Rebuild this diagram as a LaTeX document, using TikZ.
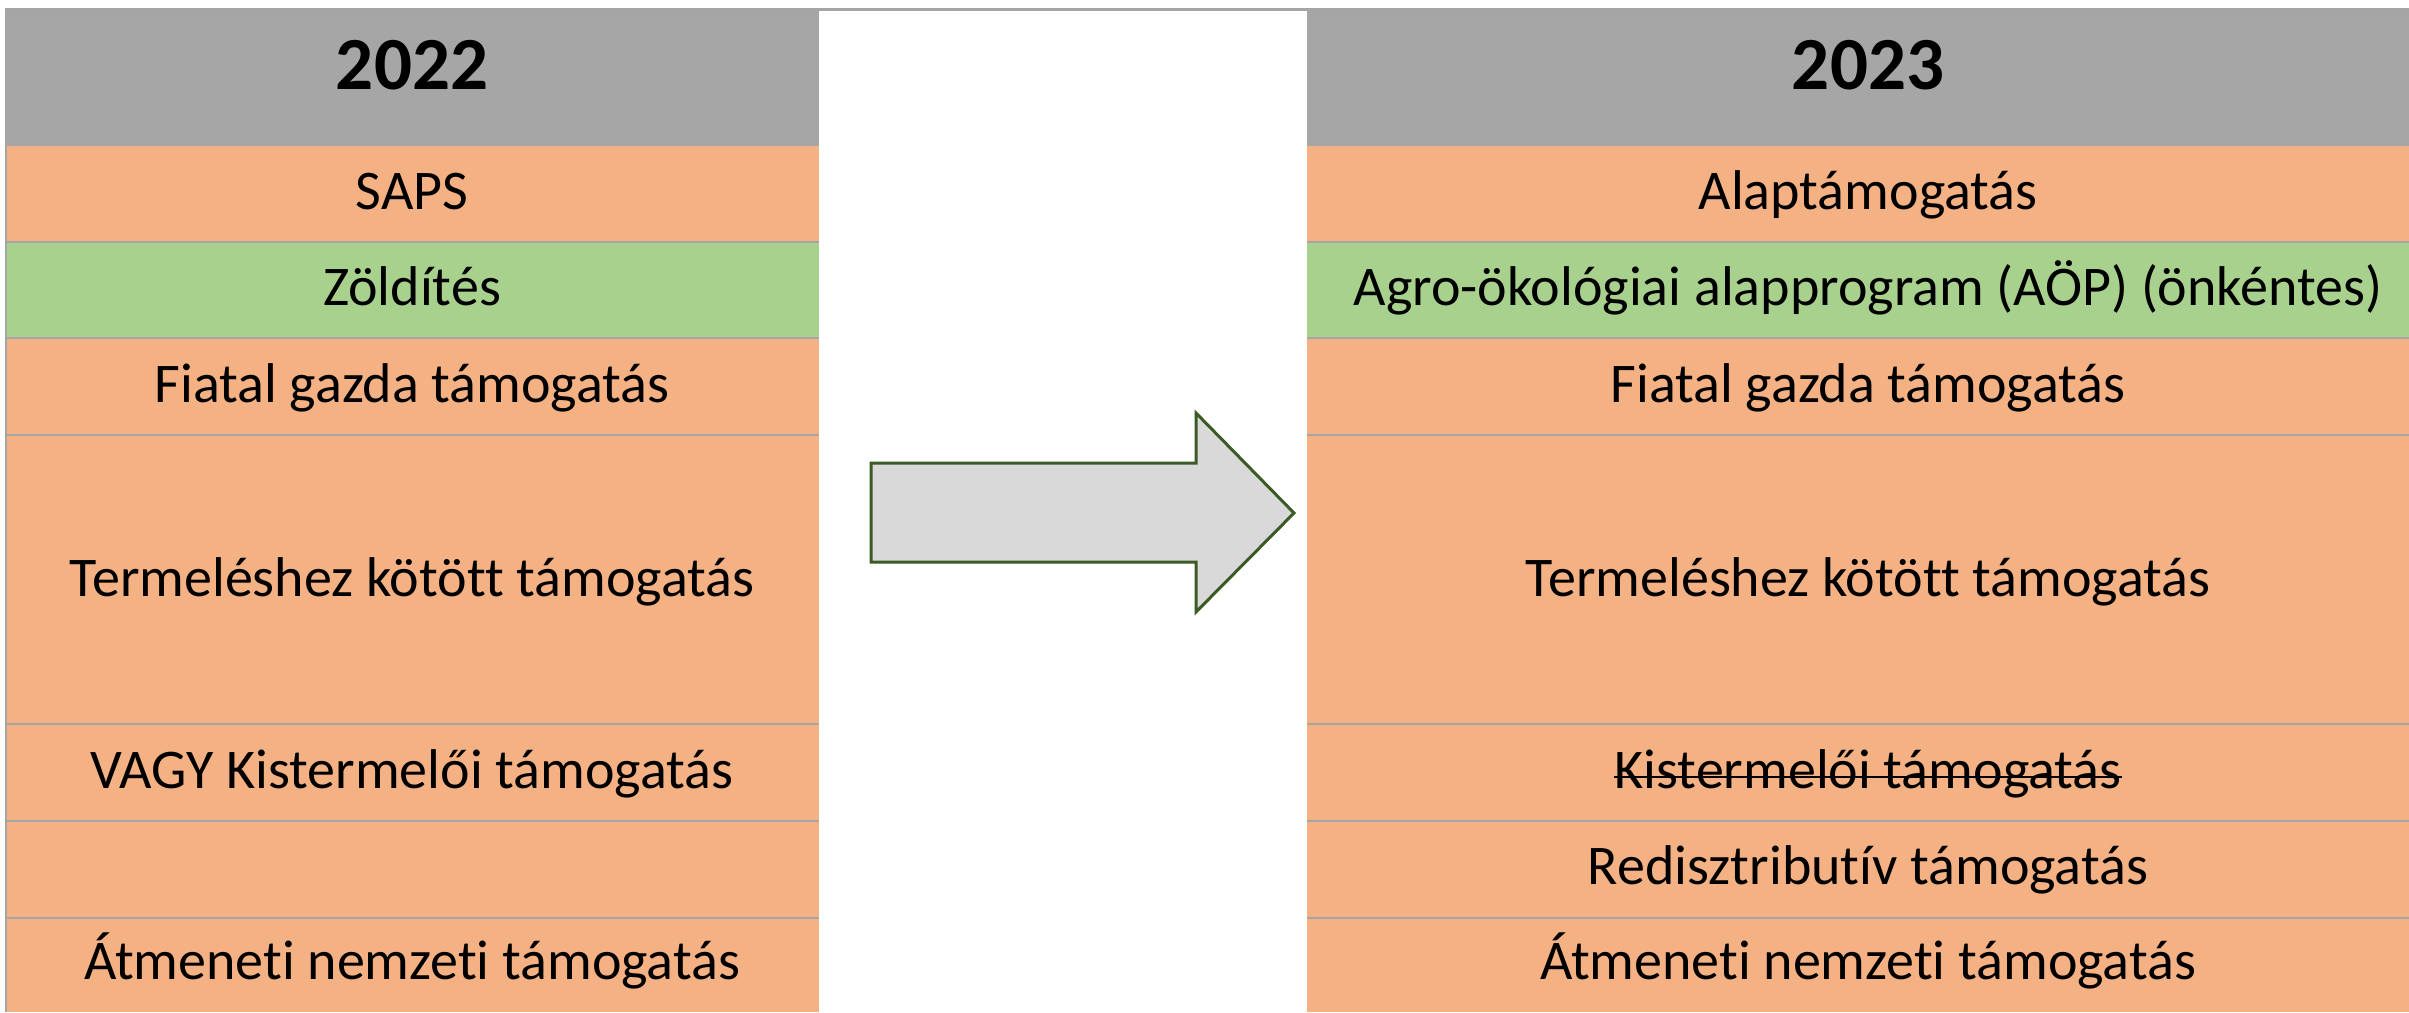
\documentclass[tikz,border=0pt]{standalone}
\usepackage{fontspec}
\setmainfont[Ligatures=NoCommon,RawFeature={-liga;-clig;-calt;-dlig}]{Carlito}
\definecolor{org}{HTML}{F4B183}
\definecolor{grn}{HTML}{A9D18E}
\definecolor{hdr}{HTML}{A6A6A6}
\definecolor{sep}{HTML}{A5A5A5}
\definecolor{arrfill}{HTML}{D9D9D9}
\definecolor{arrdraw}{HTML}{3B5A26}
\begin{document}
\begin{tikzpicture}[x=1pt,y=-1pt,
  celltxt/.style={font=\fontsize{56}{60}\selectfont, anchor=base, inner sep=0pt},
  hdrtxt/.style={font=\fontsize{75}{80}\selectfont\bfseries, anchor=base, inner sep=0pt},
  sepline/.style={draw=sep, line width=2.5pt}]
\useasboundingbox (0,0) rectangle (2409,1012);
\fill[white] (0,0) rectangle (2409,1012);
% headers
\fill[hdr] (5,9) rectangle (819,146);
\fill[hdr] (1307,9) rectangle (2409,146);
% rows
\fill[org] (5,146) rectangle (819,242);
\fill[grn] (5,242) rectangle (819,338);
\fill[org] (5,338) rectangle (819,1012);
\fill[org] (1307,146) rectangle (2409,242);
\fill[grn] (1307,242) rectangle (2409,338);
\fill[org] (1307,338) rectangle (2409,1012);
% separators
\foreach \yy in {242,338,435,724,821,918}{
  \draw[sepline] (5,\yy) -- (819,\yy);
  \draw[sepline] (1307,\yy) -- (2409,\yy);
}
\draw[sep, line width=3pt] (5,9.5) -- (2409,9.5);
\draw[sep, line width=1.5pt] (5.75,9) -- (5.75,1012);
% header texts
\node[hdrtxt] (h22) at (412,89) {2022};
\node[hdrtxt] (h23) at (1868,89) {2023};
% left texts
\node[celltxt] (l1) at (412,209) {SAPS};
\node[celltxt] (l2) at (412,305) {Zöldítés};
\node[celltxt] (l3) at (412,402) {Fiatal gazda támogatás};
\node[celltxt] (l4) at (412,596) {Termeléshez kötött támogatás};
\node[celltxt] (l5) at (412,788) {VAGY Kistermelői támogatás};
\node[celltxt] (l7) at (412,979) {Átmeneti nemzeti támogatás};
% right texts
\node[celltxt] (r1) at (1868,209) {Alaptámogatás};
\node[celltxt] (r2) at (1868,305) {Agro-ökológiai alapprogram (AÖP) (önkéntes)};
\node[celltxt] (r3) at (1868,402) {Fiatal gazda támogatás};
\node[celltxt] (r4) at (1868,596) {Termeléshez kötött támogatás};
\node[celltxt] (r5) at (1868,788) {Kistermelői támogatás};
\node[celltxt] (r6) at (1868,884) {Redisztributív támogatás};
\node[celltxt] (r7) at (1868,979) {Átmeneti nemzeti támogatás};
\draw[line width=2.5pt] ([yshift=11pt]r5.base west) -- ([yshift=11pt]r5.base east);
% arrow
\draw[fill=arrfill, draw=arrdraw, line width=3pt, line join=miter]
  (871,463) -- (1196,463) -- (1196,413) -- (1294,513) -- (1196,612) -- (1196,562) -- (871,562) -- cycle;
\end{tikzpicture}
\end{document}
